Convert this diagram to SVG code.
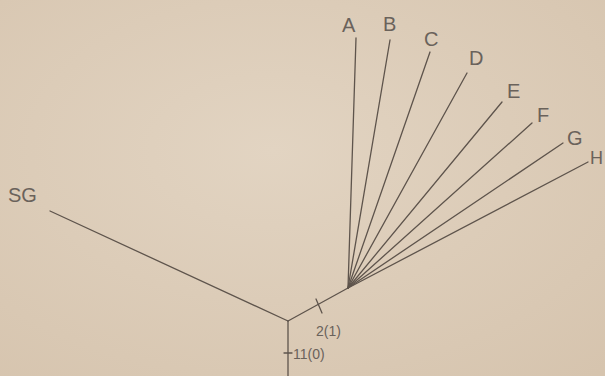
<svg xmlns="http://www.w3.org/2000/svg" width="605" height="376" viewBox="0 0 605 376">
<defs>
<radialGradient id="bg" cx="0.45" cy="0.4" r="0.8">
<stop offset="0" stop-color="#e2d4c2"/>
<stop offset="1" stop-color="#d6c4ae"/>
</radialGradient>
</defs>
<style>
.br{stroke:#5e544c;stroke-width:1.3;fill:none;stroke-linecap:round}
.lb{font-family:"Liberation Sans",sans-serif;font-size:20px;fill:#6a625b}
.sm{font-family:"Liberation Sans",sans-serif;font-size:14px;fill:#6a625b}
</style>
<rect width="605" height="376" fill="url(#bg)"/>
<g id="connectors">
<path class="br" d="M50,211 L288,321"/>
<path class="br" d="M288,321 L288,376"/>
<path class="br" d="M288,321 L348,288"/>
<path class="br" d="M316,299 L322,313"/>
<path class="br" d="M284,353 L292,353"/>
<path class="br" d="M348,288 L356,38"/>
<path class="br" d="M348,288 L390,40"/>
<path class="br" d="M348,288 L430,52"/>
<path class="br" d="M348,288 L467,73"/>
<path class="br" d="M348,288 L502,102"/>
<path class="br" d="M348,288 L532,123"/>
<path class="br" d="M348,288 L563,143"/>
<path class="br" d="M348,288 L588,162"/>
</g>
<g id="node-SG"><text class="lb" x="8" y="202">SG</text></g>
<g id="node-A"><text class="lb" x="342" y="32">A</text></g>
<g id="node-B"><text class="lb" x="383" y="31">B</text></g>
<g id="node-C"><text class="lb" x="424" y="46">C</text></g>
<g id="node-D"><text class="lb" x="469" y="65">D</text></g>
<g id="node-E"><text class="lb" x="507" y="98">E</text></g>
<g id="node-F"><text class="lb" x="537" y="122">F</text></g>
<g id="node-G"><text class="lb" x="567" y="145">G</text></g>
<g id="node-H"><text class="lb" x="590" y="164" style="font-size:18px">H</text></g>
<g id="label-2"><text class="sm" x="316" y="336">2(1)</text></g>
<g id="label-11"><text class="sm" x="293" y="359">11(0)</text></g>
</svg>
